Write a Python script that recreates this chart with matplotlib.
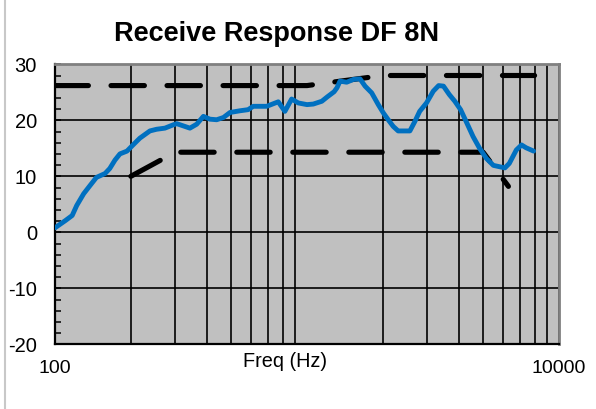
import matplotlib
matplotlib.use('Agg')
import matplotlib.pyplot as plt
from matplotlib.ticker import FixedLocator, MultipleLocator, NullFormatter
from matplotlib.lines import Line2D

plt.rcParams['font.family'] = ['Liberation Sans', 'DejaVu Sans']
plt.rcParams['axes.unicode_minus'] = False

# measured receive response (Hz, dB)
freq = [100, 110, 117, 122, 130, 138, 146, 158, 165, 173,
        181, 193, 204, 217, 238, 253, 273, 295, 304, 323,
        343, 365, 388, 412, 438, 466, 495, 542, 584, 612,
        692, 769, 817, 869, 923, 1000, 1059, 1145, 1205, 1281,
        1315, 1352, 1437, 1528, 1623, 1700, 1806, 1918, 2010, 2100,
        2200, 2300, 2560, 2680, 2800, 2980, 3170, 3330, 3480, 3670,
        3860, 4070, 4310, 4560, 4840, 5150, 5490, 6100, 6350, 6770,
        7100, 7400, 7930]
response = [0.8, 2.1, 3.0, 4.8, 6.9, 8.4, 9.8, 10.5, 11.4, 12.9,
            14.0, 14.5, 15.6, 16.8, 18.1, 18.4, 18.6, 19.2, 19.4, 19.0,
            18.6, 19.3, 20.7, 20.2, 20.1, 20.5, 21.4, 21.7, 21.9, 22.5,
            22.5, 23.3, 21.6, 23.8, 23.1, 22.8, 22.9, 23.4, 24.2, 25.1,
            25.8, 27.0, 26.8, 27.3, 27.4, 26.1, 24.9, 22.8, 21.3, 20.1,
            18.9, 18.1, 18.1, 19.8, 21.6, 23.1, 25.2, 26.2, 26.1, 24.6,
            23.4, 21.9, 19.5, 17.1, 15.0, 13.2, 11.95, 11.5, 12.3, 14.7,
            15.6, 15.1, 14.5]

# mask limits
upper_freq = [100, 1000, 2000, 8000]
upper_db = [26.2, 26.2, 28.0, 28.0]
lower_freq = [200, 300, 5000, 6300]
lower_db = [10.0, 14.3, 14.3, 8.2]

y_ticks = [-20, -10, 0, 10, 20, 30]
x_ticks = [100, 10000]
x_tick_labels = ['100', '10000']

W, H = 596, 409
fig = plt.figure(figsize=(W / 100, H / 100), dpi=100)

# axes box in pixels
left, right, top, bottom = 55, 559, 64.3, 344.3
ax = fig.add_axes([left / W, (H - bottom) / H, (right - left) / W, (bottom - top) / H])
ax.set_facecolor('#C0C0C0')

ax.set_xscale('log')
ax.set_xlim(100, 10000)
ax.set_ylim(-20, 30)

dash = (0, (6.5, 4.4))
ax.plot(upper_freq, upper_db, color='black', lw=3.7, ls=dash,
        dash_capstyle='round', solid_capstyle='round', zorder=3)
ax.plot(lower_freq, lower_db, color='black', lw=3.7, ls=dash,
        dash_capstyle='round', solid_capstyle='round', zorder=3)
ax.plot(freq, response, color='#0070C0', lw=3.5, solid_joinstyle='round',
        solid_capstyle='round', zorder=4)

# grid
ax.set_yticks(y_ticks)
ax.yaxis.set_minor_locator(MultipleLocator(2))
ax.set_xticks(x_ticks)
ax.set_xticklabels(x_tick_labels)
ax.xaxis.set_minor_locator(FixedLocator([m * d for d in (100, 1000) for m in range(2, 10)]))
ax.xaxis.set_minor_formatter(NullFormatter())
ax.grid(True, which='major', axis='y', color='black', lw=1.2, zorder=1)
ax.grid(True, which='both', axis='x', color='black', lw=1.2, zorder=1)
ax.set_axisbelow(True)

ax.tick_params(axis='y', which='both', direction='in', length=4, width=1.1,
               labelsize=14.5, pad=13, right=False)
ax.tick_params(axis='x', which='both', length=0, labelsize=14, pad=11)

for s in ('left', 'bottom'):
    ax.spines[s].set_color('black')
    ax.spines[s].set_linewidth(1.6)
for s in ('top', 'right'):
    ax.spines[s].set_color('#808080')
    ax.spines[s].set_linewidth(2)

fig.text(277 / W, (H - 41) / H, 'Receive Response DF 8N', ha='center',
         va='baseline', fontsize=19.5, fontweight='bold')
fig.text(285.5 / W, (H - 366.7) / H, 'Freq (Hz)', ha='center',
         va='baseline', fontsize=14.3)

# frame line of the sheet
fig.add_artist(Line2D([5 / W, 5 / W], [0, 1], color='#C8C8C8', lw=1.5))

fig.savefig('out.png', dpi=100)
